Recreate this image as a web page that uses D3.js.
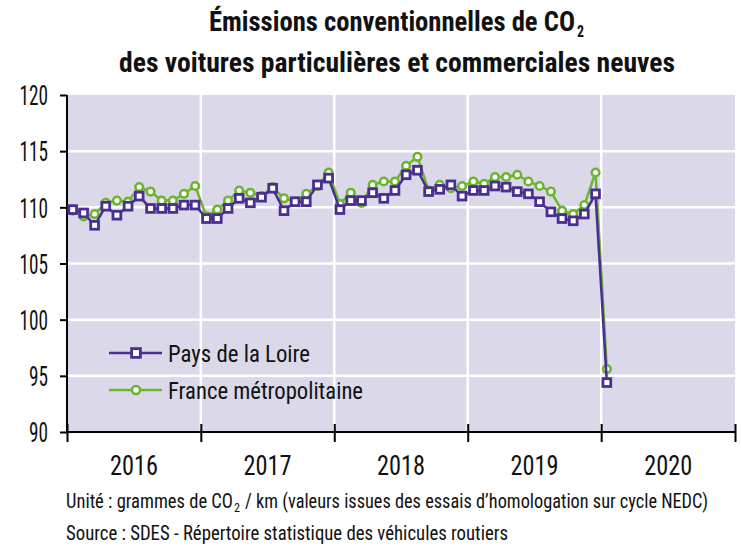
<!DOCTYPE html>
<html>
<head>
<meta charset="utf-8">
<script src="https://cdn.jsdelivr.net/npm/d3@7"></script>
<style>
  body { margin: 0; background: #fff; }
  text { font-family: "Liberation Sans Narrow", "Roboto Condensed", "DejaVu Sans Condensed", Roboto, sans-serif; fill: #111; }
</style>
</head>
<body>
<div id="chart"></div>
<script>
// monthly values, Jan 2016 -> Jan 2020
var pays = [109.8, 109.5, 108.4, 110.1, 109.3, 110.1, 111.0, 109.9, 109.9, 109.9, 110.2, 110.2,
  109.0, 109.0, 109.9, 110.8, 110.4, 110.9, 111.7, 109.7, 110.5, 110.5, 112.0, 112.6,
  109.8, 110.6, 110.6, 111.3, 110.8, 111.5, 112.9, 113.3, 111.4, 111.6, 112.0, 111.0,
  111.5, 111.5, 111.9, 111.8, 111.4, 111.2, 110.5, 109.6, 109.0, 108.8, 109.4, 111.2,
  94.4];
var france = [109.7, 109.2, 109.4, 110.4, 110.6, 110.5, 111.8, 111.4, 110.6, 110.6, 111.2, 111.9,
  109.2, 109.8, 110.6, 111.5, 111.3, 111.0, 111.8, 110.8, 110.5, 111.2, 111.9, 113.1,
  110.3, 111.3, 110.4, 112.0, 112.3, 112.3, 113.7, 114.5, 111.5, 112.0, 111.7, 111.9,
  112.3, 112.1, 112.7, 112.7, 112.9, 112.3, 111.9, 111.4, 109.7, 109.4, 110.2, 113.1,
  95.6];
var years = [2016, 2017, 2018, 2019, 2020];
var yTicks = [90, 95, 100, 105, 110, 115, 120];
var seriesNames = ["Pays de la Loire", "France métropolitaine"];

var W = 741, H = 547;
var margin = {top: 95, right: 6, bottom: 115, left: 67},
  width = W - margin.left - margin.right,
  height = H - margin.top - margin.bottom;

var purple = "#4b2e91", green = "#6cb52d", bg = "#dbd8ea";

var months = d3.timeMonth.range(new Date(2016, 0, 1), new Date(2020, 1, 1));
var mid = function(m) { return new Date((+m + +d3.timeMonth.offset(m, 1)) / 2); };

var x = d3.scaleTime()
  .domain([new Date(years[0], 0, 1), new Date(years[years.length - 1] + 1, 0, 1)])
  .range([0, width]);
var y = d3.scaleLinear().domain([90, 120]).range([height, 0]);

var svg = d3.select("#chart").append("svg")
  .attr("width", W).attr("height", H);

// helper for condensed text pieces
function label(px, py, size, len, str, weight) {
  return svg.append("text")
    .attr("x", px).attr("y", py)
    .style("font-size", size + "px").style("font-weight", weight || "normal")
    .attr("textLength", len).attr("lengthAdjust", "spacingAndGlyphs")
    .text(str);
}

// title
label(209, 31, 28, 366, "Émissions conventionnelles de CO", "bold");
label(577, 37, 17, 7, "2", "bold");
label(119, 72, 28, 556, "des voitures particulières et commerciales neuves", "bold");

var g = svg.append("g")
  .attr("transform", "translate(" + margin.left + "," + margin.top + ")");

g.append("rect")
  .attr("width", width).attr("height", height)
  .attr("fill", bg);

// grid
g.selectAll(".hgrid")
  .data(yTicks.filter(function(d) { return d > 90 && d < 120; }))
  .enter().append("line")
  .attr("x1", 0).attr("x2", width)
  .attr("y1", function(d) { return y(d); }).attr("y2", function(d) { return y(d); })
  .attr("stroke", "#fff").attr("stroke-width", 2.5);
g.selectAll(".vgrid")
  .data(years.slice(1))
  .enter().append("line")
  .attr("x1", function(d) { return x(new Date(d, 0, 1)); })
  .attr("x2", function(d) { return x(new Date(d, 0, 1)); })
  .attr("y1", 0).attr("y2", height)
  .attr("stroke", "#fff").attr("stroke-width", 2.5);

// axes
var yAxis = d3.axisLeft(y).tickValues(yTicks).tickSize(7).tickPadding(12);
var ya = g.append("g").call(yAxis);
ya.select(".domain").attr("stroke", "#000").attr("stroke-width", 2).attr("d", "M0," + height + "V0");
ya.selectAll(".tick line").attr("x1", 0).attr("x2", -7).attr("stroke", "#000").attr("stroke-width", 2);
ya.selectAll(".tick text")
  .style("font-size", "27px").attr("fill", "#111").style("font-family", null)
  .attr("dy", "0.36em")
  .attr("textLength", function(d) { return String(d).length * 9.5; })
  .attr("lengthAdjust", "spacingAndGlyphs");

var xTickAxis = d3.axisBottom(x)
  .tickValues(years.concat([years[years.length - 1] + 1]).map(function(d) { return new Date(d, 0, 1); }))
  .tickSize(10).tickFormat("");
var xa = g.append("g").attr("transform", "translate(0," + height + ")").call(xTickAxis);
xa.select(".domain").attr("stroke", "#000").attr("stroke-width", 2).attr("d", "M0,0H" + width);
xa.selectAll(".tick line").attr("y1", -8).attr("y2", 10).attr("stroke", "#000").attr("stroke-width", 2);

var xLabelAxis = d3.axisBottom(x)
  .tickValues(years.map(function(d) { return new Date(d, 6, 1); }))
  .tickSize(0).tickPadding(24).tickFormat(d3.timeFormat("%Y"));
var xl = g.append("g").attr("transform", "translate(0," + height + ")").call(xLabelAxis);
xl.select(".domain").remove();
xl.selectAll(".tick text")
  .style("font-size", "27px").attr("fill", "#111").style("font-family", null)
  .attr("textLength", 48).attr("lengthAdjust", "spacingAndGlyphs");

// series
var line = d3.line()
  .x(function(d, i) { return x(mid(months[i])); })
  .y(function(d) { return y(d); });

g.append("path").datum(france)
  .attr("fill", "none").attr("stroke", green).attr("stroke-width", 2.5)
  .attr("d", line);
g.selectAll(".dotF").data(france).enter().append("circle")
  .attr("cx", function(d, i) { return x(mid(months[i])); })
  .attr("cy", function(d) { return y(d); })
  .attr("r", 3.8)
  .attr("fill", "#fff").attr("stroke", green).attr("stroke-width", 2.6);

g.append("path").datum(pays)
  .attr("fill", "none").attr("stroke", purple).attr("stroke-width", 2.5)
  .attr("d", line);
g.selectAll(".dotP").data(pays).enter().append("rect")
  .attr("x", function(d, i) { return x(mid(months[i])) - 3.9; })
  .attr("y", function(d) { return y(d) - 3.9; })
  .attr("width", 7.8).attr("height", 7.8)
  .attr("fill", "#fff").attr("stroke", purple).attr("stroke-width", 2.8);

// legend
var legY = [353, 390];
var legColor = [purple, green];
seriesNames.forEach(function(name, i) {
  svg.append("line")
    .attr("x1", 109).attr("x2", 162)
    .attr("y1", legY[i]).attr("y2", legY[i])
    .attr("stroke", legColor[i]).attr("stroke-width", 2.5);
  if (i == 0) {
    svg.append("rect")
      .attr("x", 131.6).attr("y", legY[i] - 4.4)
      .attr("width", 8.8).attr("height", 8.8)
      .attr("fill", "#fff").attr("stroke", purple).attr("stroke-width", 2.8);
  } else {
    svg.append("circle")
      .attr("cx", 136).attr("cy", legY[i]).attr("r", 4)
      .attr("fill", "#fff").attr("stroke", green).attr("stroke-width", 2.6);
  }
  label(168, legY[i] + 8.5, 24, i == 0 ? 142 : 195, name);
});

// footer
label(66, 508, 20, 167, "Unité : grammes de CO");
label(234, 512, 13, 6, "2");
label(245, 508, 20, 463, "/ km (valeurs issues des essais d’homologation sur cycle NEDC)");
label(66, 540, 20, 442, "Source : SDES - Répertoire statistique des véhicules routiers");
</script>
</body>
</html>
